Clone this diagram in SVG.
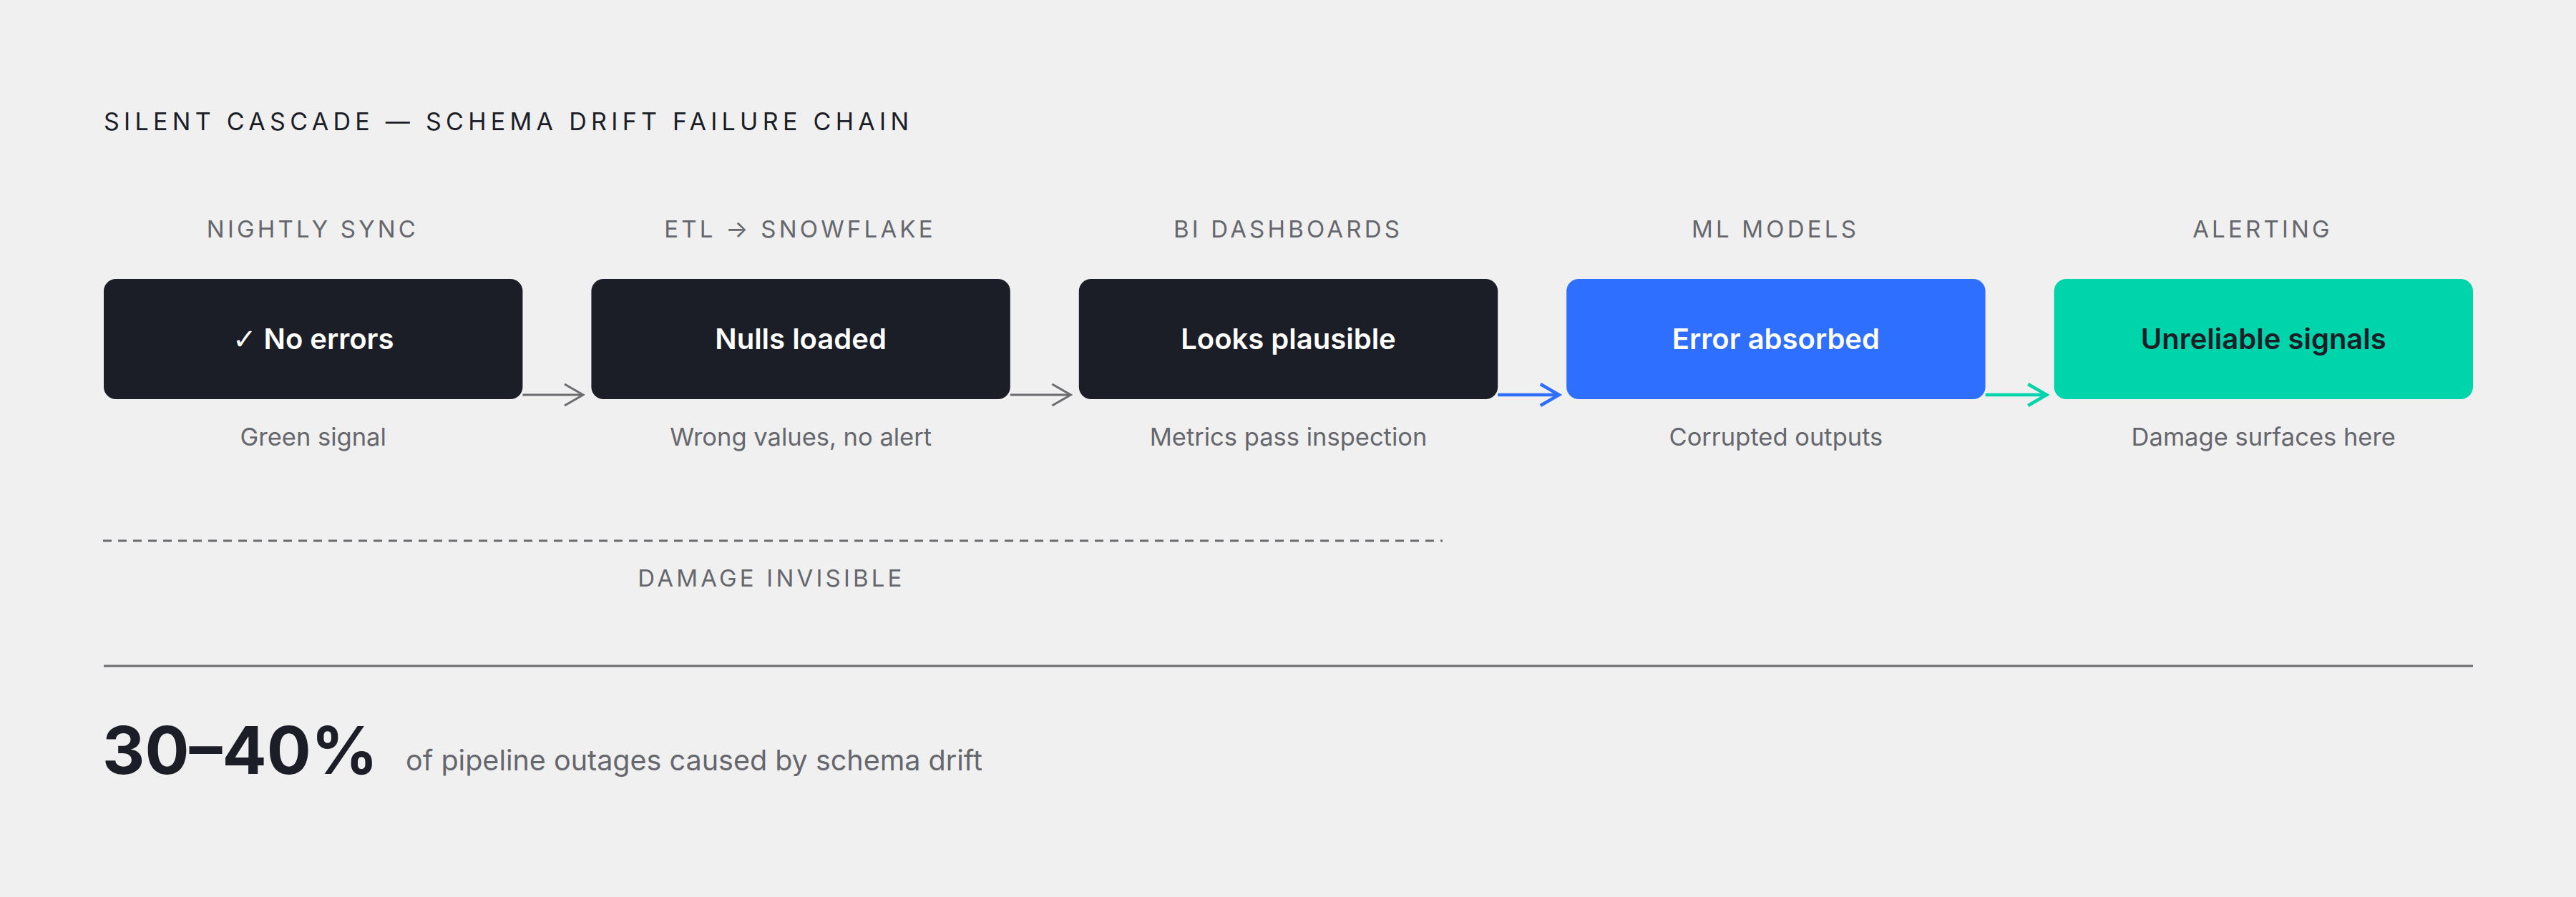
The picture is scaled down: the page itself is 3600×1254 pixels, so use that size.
<svg xmlns="http://www.w3.org/2000/svg" width="3600" height="1254" viewBox="0 0 3600 1254">
  <defs>
    <style>
      .title { font-family: Inter, "Liberation Sans", sans-serif; font-size: 34px; fill: #1b1e26; letter-spacing: 6.3px; }
      .col { font-family: Inter, "Liberation Sans", sans-serif; font-size: 33px; fill: #66676d; letter-spacing: 4.2px; text-anchor: middle; }
      .box-dark { fill: #1b1e26; }
      .box-blue { fill: #2e6fff; }
      .box-teal { fill: #00d4aa; }
      .btxt { font-family: Inter, "Liberation Sans", "DejaVu Sans", sans-serif; font-size: 40px; font-weight: 600; fill: #ffffff; text-anchor: middle; }
      .btxt-dark { fill: #1b1e26; }
      .check { font-family: "DejaVu Sans", sans-serif; font-weight: 400; }
      .sub { font-family: Inter, "Liberation Sans", sans-serif; font-size: 34.5px; fill: #66676d; text-anchor: middle; }
      .arr { fill: none; stroke-linecap: butt; stroke-linejoin: miter; }
      .arr-gray { stroke: #6b6b70; stroke-width: 3; }
      .arr-blue { stroke: #2e6fff; stroke-width: 4.5; }
      .arr-teal { stroke: #00d4aa; stroke-width: 4.5; }
      .big { font-family: Inter, "Liberation Sans", sans-serif; font-size: 92px; font-weight: 700; fill: #1b1e26; }
      .note { font-family: Inter, "Liberation Sans", sans-serif; font-size: 39.5px; fill: #66676d; }
    </style>
  </defs>
  <rect x="0" y="0" width="3600" height="1254" fill="#f0f0f0"/>

  <text class="title" x="145" y="182">SILENT CASCADE — SCHEMA DRIFT FAILURE CHAIN</text>

  <g id="node-nightly-sync">
    <text class="col" x="437" y="332">NIGHTLY SYNC</text>
    <rect class="box-dark" x="145" y="390" width="585.4" height="168" rx="17"/>
    <text class="btxt" x="437.7" y="488"><tspan class="check">✓</tspan> No errors</text>
    <text class="sub" x="437.7" y="623">Green signal</text>
  </g>

  <g id="node-etl-snowflake">
    <text class="col" x="1118" y="332">ETL → SNOWFLAKE</text>
    <rect class="box-dark" x="826.4" y="390" width="585.4" height="168" rx="17"/>
    <text class="btxt" x="1119.1" y="488">Nulls loaded</text>
    <text class="sub" x="1119.1" y="623">Wrong values, no alert</text>
  </g>

  <g id="node-bi-dashboards">
    <text class="col" x="1800" y="332">BI DASHBOARDS</text>
    <rect class="box-dark" x="1507.8" y="390" width="585.4" height="168" rx="17"/>
    <text class="btxt" x="1800.5" y="488">Looks plausible</text>
    <text class="sub" x="1800.5" y="623">Metrics pass inspection</text>
  </g>

  <g id="node-ml-models">
    <text class="col" x="2481" y="332">ML MODELS</text>
    <rect class="box-blue" x="2189.2" y="390" width="585.4" height="168" rx="17"/>
    <text class="btxt" x="2481.9" y="488">Error absorbed</text>
    <text class="sub" x="2481.9" y="623">Corrupted outputs</text>
  </g>

  <g id="node-alerting">
    <text class="col" x="3162" y="332">ALERTING</text>
    <rect class="box-teal" x="2870.6" y="390" width="585.4" height="168" rx="17"/>
    <text class="btxt btxt-dark" x="3163.3" y="488">Unreliable signals</text>
    <text class="sub" x="3163.3" y="623">Damage surfaces here</text>
  </g>

  <g id="connectors">
    <line class="arr arr-gray" x1="730.4" y1="552" x2="813" y2="552"/>
    <polyline class="arr arr-gray" points="789,537 815,552 789,567"/>
    <line class="arr arr-gray" x1="1411.8" y1="552" x2="1494" y2="552"/>
    <polyline class="arr arr-gray" points="1470.4,537 1496.4,552 1470.4,567"/>
    <line class="arr arr-blue" x1="2093.2" y1="552" x2="2175" y2="552"/>
    <polyline class="arr arr-blue" points="2152.8,537 2178.8,552 2152.8,567"/>
    <line class="arr arr-teal" x1="2774.6" y1="552" x2="2856" y2="552"/>
    <polyline class="arr arr-teal" points="2834.2,537 2860.2,552 2834.2,567"/>
  </g>

  <g id="damage-invisible">
    <line x1="144" y1="756" x2="2016" y2="756" stroke="#6b6b70" stroke-width="3" stroke-dasharray="12 9"/>
    <text class="col" x="1078" y="820">DAMAGE INVISIBLE</text>
  </g>

  <line x1="145" y1="931" x2="3456" y2="931" stroke="#6b6b70" stroke-width="3"/>

  <g id="stat">
    <text class="big" x="143" y="1082">30–40%</text>
    <text class="note" x="567" y="1077">of pipeline outages caused by schema drift</text>
  </g>
</svg>
